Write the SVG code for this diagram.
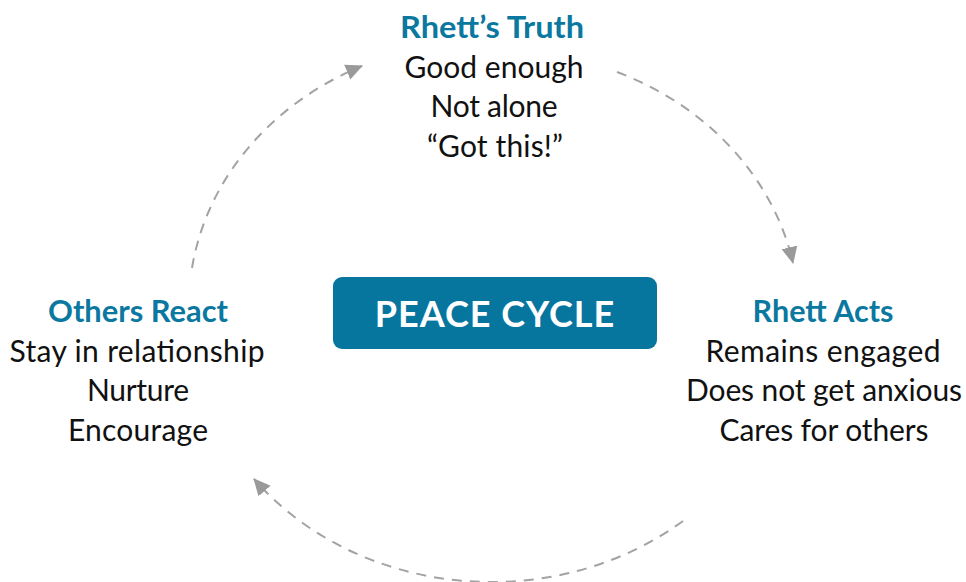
<svg xmlns="http://www.w3.org/2000/svg" width="966" height="582" viewBox="0 0 966 582">
<style>
.t{font-family:"Lato","Noto Sans",sans-serif;font-size:30px;text-anchor:middle;fill:#111}
.h{font-weight:bold;fill:#0b78a0}
.c{fill:none;stroke:#a3a3a3;stroke-width:2;stroke-dasharray:10 8}
</style>
<defs>
<marker id="ah" markerUnits="userSpaceOnUse" markerWidth="18" markerHeight="18" refX="16" refY="9" orient="auto">
<path d="M0,1 L17,9 L0,17 z" fill="#9a9a9a"/>
</marker>
</defs>
<rect width="966" height="582" fill="#fff"/>
<g id="connectors">
<path class="c" d="M192,268 A300,265 0 0,1 362,66" marker-end="url(#ah)"/>
<path class="c" d="M617,72 A300,265 0 0,1 793,263" marker-end="url(#ah)"/>
<path class="c" d="M683,521 A300,265 0 0,1 254,479" marker-end="url(#ah)"/>
</g>
<g id="center">
<rect x="333" y="277" width="324" height="72" rx="9" fill="#06769f"/>
<text class="t" x="495" y="327" style="font-size:36px;font-weight:bold;fill:#fff;letter-spacing:1px">PEACE CYCLE</text>
</g>
<g id="truth">
<text class="t h" x="492" y="38" textLength="184" lengthAdjust="spacingAndGlyphs">Rhett’s Truth</text>
<text class="t" x="494" y="78" textLength="179">Good enough</text>
<text class="t" x="494" y="117" textLength="127">Not alone</text>
<text class="t" x="495" y="157" textLength="136">“Got this!”</text>
</g>
<g id="acts">
<text class="t h" x="823" y="322" textLength="141" lengthAdjust="spacingAndGlyphs">Rhett Acts</text>
<text class="t" x="823" y="362" textLength="235">Remains engaged</text>
<text class="t" x="824" y="401" textLength="276">Does not get anxious</text>
<text class="t" x="824" y="441" textLength="209">Cares for others</text>
</g>
<g id="react">
<text class="t h" x="138" y="322" textLength="180" lengthAdjust="spacingAndGlyphs">Others React</text>
<text class="t" x="137" y="362" textLength="255">Stay in relationship</text>
<text class="t" x="138" y="401" textLength="102">Nurture</text>
<text class="t" x="138" y="441" textLength="140">Encourage</text>
</g>
</svg>
